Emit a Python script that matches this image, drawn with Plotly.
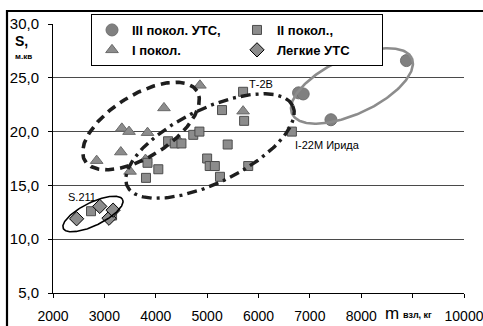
import numpy as np
import plotly.graph_objects as go

# ---------------- data ----------------
gen3_x = [6780, 6870, 7410, 8880]
gen3_y = [23.6, 23.5, 21.1, 26.6]

gen2_x = [2740, 3150, 3840, 3810, 4050, 4240, 4370, 4500, 4730, 4850,
          5000, 5050, 5150, 5250, 5400, 5290, 5700, 5720, 5800, 6650]
gen2_y = [12.6, 12.2, 17.1, 15.7, 16.5, 19.1, 18.9, 18.9, 19.7, 20.0,
          17.5, 16.8, 16.8, 15.8, 18.8, 22.0, 23.7, 21.0, 16.8, 20.0]

gen1_x = [2850, 3320, 3340, 3480, 3500, 3800, 3840, 4160, 4440, 4800, 4860, 5700]
gen1_y = [17.3, 18.1, 20.3, 20.0, 16.3, 17.4, 19.9, 22.2, 19.2, 19.9, 24.3, 21.9]

light_x = [2460, 2910, 3090, 3170]
light_y = [11.9, 13.05, 11.95, 12.7]

series_names = ["III покол. УТС,", "II покол.,", "I покол.", "Легкие УТС"]

x_ticks = [2000, 3000, 4000, 5000, 6000, 7000, 8000, 9000, 10000]
x_ticktext = ["2000", "3000", "4000", "5000", "6000", "7000", "8000", "", "10000"]
y_ticks = [5, 10, 15, 20, 25, 30]

# grouping ellipses: centre (data), semi-axes (px), tilt (deg)
ellipse_centres = [(7819, 24.24), (3713, 20.52), (5056, 18.66), (2778, 12.34)]
ellipse_axes = [(66, 28), (66, 31), (92, 37), (33, 11.5)]
ellipse_tilts = [25, 32, 26, 26]

labels = ["Т-2В", "I-22M Ирида", "S.211"]
label_pos = [(6050, 24.45), (7350, 18.75), (2555, 13.93)]

# ---------------- figure ----------------
W, H = 483, 326
ML, MR, MT, MB = 53, 19, 24, 33
XR = [2000, 10000]
YR = [5, 30]
pw = W - ML - MR
ph = H - MT - MB
ppx = pw / (XR[1] - XR[0])
ppy = ph / (YR[1] - YR[0])

FONT = "Liberation Sans, Arial, sans-serif"
fig = go.Figure()

fig.add_trace(go.Scatter(
    x=gen1_x, y=gen1_y, mode="markers", name=series_names[2], legendrank=3,
    marker=dict(symbol="triangle-up", size=11, color="#8c8c8c",
                line=dict(color="#6a6a6a", width=1))))
fig.add_trace(go.Scatter(
    x=gen2_x, y=gen2_y, mode="markers", name=series_names[1], legendrank=2,
    marker=dict(symbol="square", size=9, color="#8c8c8c",
                line=dict(color="#4d4d4d", width=1))))
fig.add_trace(go.Scatter(
    x=light_x, y=light_y, mode="markers", name=series_names[3], legendrank=4,
    marker=dict(symbol="diamond", size=11, color="#8c8c8c",
                line=dict(color="#000000", width=1))))
fig.add_trace(go.Scatter(
    x=gen3_x, y=gen3_y, mode="markers", name=series_names[0], legendrank=1,
    marker=dict(symbol="circle", size=12, color="#808080",
                line=dict(color="#707070", width=1))))

styles = [dict(color="#8c8c8c", width=2.6, dash="solid"),
          dict(color="#1e1e1e", width=3.6, dash="9px,6px"),
          dict(color="#1e1e1e", width=3.4, dash="10px,5px,3px,5px"),
          dict(color="#000000", width=1.6, dash="solid")]

t = np.linspace(0, 2 * np.pi, 240)
for (cx, cy), (a, b), ang, st in zip(ellipse_centres, ellipse_axes, ellipse_tilts, styles):
    th = np.radians(ang)
    dxp = a * np.cos(t) * np.cos(th) - b * np.sin(t) * np.sin(th)
    dyp = a * np.cos(t) * np.sin(th) + b * np.sin(t) * np.cos(th)
    fig.add_trace(go.Scatter(x=cx + dxp / ppx, y=cy + dyp / ppy, mode="lines",
                             line=st, showlegend=False, hoverinfo="skip"))

ann = []
for txt, (lx, ly) in zip(labels, label_pos):
    ann.append(dict(x=lx, y=ly, xref="x", yref="y", text=txt, showarrow=False,
                    xanchor="center", yanchor="middle",
                    font=dict(family=FONT, size=11, color="#000")))
# axis titles
ann.append(dict(x=(22 - ML) / pw, y=(293 - 41) / ph, xref="paper", yref="paper",
                xanchor="center", yanchor="middle",
                text="<b>S,</b>", showarrow=False, font=dict(family=FONT, size=14, color="#000")))
ann.append(dict(x=(23 - ML) / pw, y=(293 - 57) / ph, xref="paper", yref="paper",
                xanchor="center", yanchor="middle",
                text="<b>м.кв</b>", showarrow=False, font=dict(family=FONT, size=8, color="#000")))
ann.append(dict(x=(392 - ML) / pw, y=(293 - 313) / ph, xref="paper", yref="paper",
                xanchor="center", yanchor="middle",
                text="m", showarrow=False, font=dict(family=FONT, size=17, color="#000")))
ann.append(dict(x=(401 - ML) / pw, y=(293 - 315) / ph, xref="paper", yref="paper",
                xanchor="left", yanchor="middle",
                text="<b>взл, кг</b>", showarrow=False, font=dict(family=FONT, size=9, color="#000")))

shapes = [dict(type="rect", xref="paper", yref="paper",
               x0=(7 - ML) / pw, x1=1.2, y0=-0.3, y1=(293 - 11) / ph,
               line=dict(color="#000", width=2.2), layer="below")]

fig.update_layout(
    width=W, height=H,
    margin=dict(l=ML, r=MR, t=MT, b=MB, autoexpand=False),
    paper_bgcolor="white", plot_bgcolor="white",
    separators=", ",
    font=dict(family=FONT, color="#000"),
    showlegend=True,
    legend=dict(orientation="h", x=(91 - ML) / pw, y=(293 - 14) / ph,
                xanchor="left", yanchor="top",
                bgcolor="white", bordercolor="#000", borderwidth=1,
                font=dict(family=FONT, size=13, color="#000", weight="bold"),
                entrywidth=100, entrywidthmode="pixels",
                itemwidth=30, tracegroupgap=0),
    annotations=ann, shapes=shapes,
    xaxis=dict(range=XR, tickvals=x_ticks, ticktext=x_ticktext, automargin=False,
               showgrid=False, zeroline=False,
               showline=True, linecolor="#000", linewidth=1,
               ticks="outside", ticklen=4, tickcolor="#000",
               tickfont=dict(family=FONT, size=14, color="#000"),
               ticklabelstandoff=6, ticklabeloverflow="allow"),
    yaxis=dict(range=YR, tickvals=y_ticks, tickformat=".1f", automargin=False,
               showgrid=True, gridcolor="#4a4a4a", gridwidth=1, zeroline=False,
               showline=True, linecolor="#000", linewidth=1,
               ticks="outside", ticklen=4, tickcolor="#000",
               tickfont=dict(family=FONT, size=15, color="#000"),
               ticklabelstandoff=6),
)

fig.write_html("out.html")
